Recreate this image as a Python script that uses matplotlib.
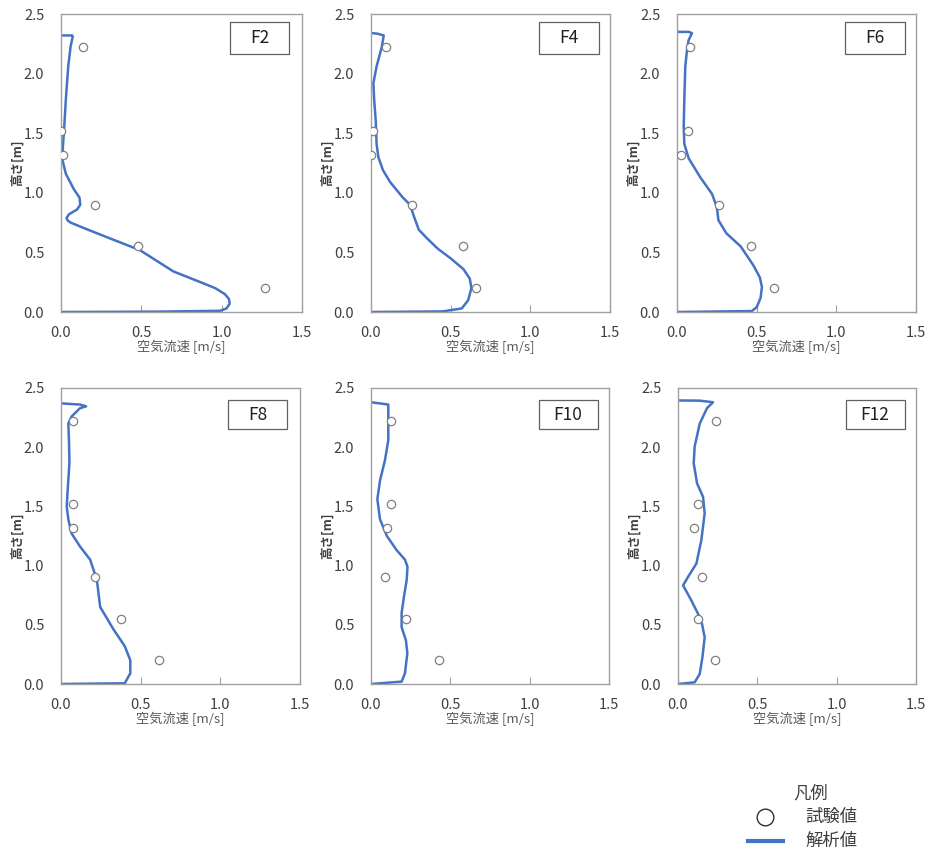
import matplotlib
matplotlib.use("Agg")
import matplotlib.pyplot as plt
from matplotlib.patches import Rectangle
from matplotlib.lines import Line2D

plt.rcParams['font.family'] = ['Noto Sans CJK JP', 'DejaVu Sans']

# measured points (試験値): same heights for every panel
test_h = [2.22, 1.52, 1.32, 0.90, 0.55, 0.20]
test_f2 = [0.14, 0.00, 0.015, 0.21, 0.48, 1.27]
test_f4 = [0.094, 0.01, 0.0, 0.255, 0.58, 0.657]
test_f6 = [0.08, 0.067, 0.027, 0.264, 0.464, 0.611]
test_f8 = [0.074, 0.078, 0.078, 0.216, 0.376, 0.615]
test_f10 = [0.126, 0.126, 0.099, 0.086, 0.218, 0.43]
test_f12 = [0.238, 0.128, 0.099, 0.154, 0.126, 0.234]

# analysis curves (解析値): velocity v at height h
calc_f2_v = [0.0, 0.60, 0.99, 1.03, 1.05, 1.045, 1.02, 0.96, 0.85, 0.70, 0.49, 0.30, 0.15,
             0.06, 0.04, 0.035, 0.05, 0.10, 0.12, 0.115, 0.08, 0.03, 0.01, 0.012, 0.02,
             0.03, 0.045, 0.06, 0.073, 0.07, 0.0]
calc_f2_h = [0.0, 0.003, 0.01, 0.03, 0.07, 0.11, 0.15, 0.20, 0.26, 0.34, 0.52, 0.62, 0.70,
             0.75, 0.77, 0.79, 0.82, 0.86, 0.90, 0.96, 1.03, 1.16, 1.27, 1.39, 1.55,
             1.78, 2.06, 2.23, 2.31, 2.32, 2.32]

calc_f4_v = [0.0, 0.45, 0.57, 0.61, 0.63, 0.62, 0.58, 0.50, 0.42, 0.35, 0.30, 0.27, 0.245,
             0.20, 0.12, 0.075, 0.046, 0.035, 0.03, 0.02, 0.015, 0.035, 0.067, 0.08, 0.04, 0.0]
calc_f4_h = [0.0, 0.005, 0.03, 0.10, 0.20, 0.28, 0.36, 0.45, 0.53, 0.62, 0.69, 0.80, 0.90,
             0.96, 1.09, 1.19, 1.30, 1.41, 1.60, 1.78, 1.92, 2.06, 2.22, 2.32, 2.335, 2.34]

calc_f6_v = [0.0, 0.47, 0.50, 0.525, 0.533, 0.52, 0.48, 0.40, 0.31, 0.26, 0.25, 0.22, 0.146,
             0.073, 0.046, 0.042, 0.046, 0.052, 0.063, 0.073, 0.094, 0.073, 0.0]
calc_f6_h = [0.0, 0.008, 0.04, 0.12, 0.21, 0.29, 0.39, 0.55, 0.66, 0.77, 0.88, 0.99, 1.13,
             1.29, 1.41, 1.55, 1.78, 2.06, 2.20, 2.28, 2.34, 2.35, 2.35]

calc_f8_v = [0.0, 0.40, 0.435, 0.435, 0.40, 0.33, 0.246, 0.235, 0.225, 0.183, 0.12, 0.067,
             0.046, 0.036, 0.042, 0.053, 0.05, 0.046, 0.067, 0.12, 0.158, 0.12, 0.0]
calc_f8_h = [0.0, 0.006, 0.09, 0.20, 0.32, 0.46, 0.65, 0.77, 0.88, 1.05, 1.16, 1.27,
             1.39, 1.50, 1.64, 1.87, 2.06, 2.20, 2.26, 2.33, 2.345, 2.36, 2.37]

calc_f10_v = [0.0, 0.193, 0.214, 0.229, 0.22, 0.193, 0.193, 0.208, 0.225, 0.23, 0.214, 0.162,
              0.10, 0.057, 0.04, 0.057, 0.088, 0.109, 0.109, 0.109, 0.0]
calc_f10_h = [0.0, 0.02, 0.09, 0.26, 0.37, 0.48, 0.60, 0.74, 0.88, 0.99, 1.05, 1.13,
              1.25, 1.39, 1.56, 1.72, 1.89, 2.06, 2.23, 2.36, 2.38]

calc_f12_v = [0.0, 0.105, 0.137, 0.154, 0.168, 0.147, 0.084, 0.032, 0.063, 0.116, 0.147, 0.168,
              0.158, 0.12, 0.099, 0.105, 0.137, 0.183, 0.221, 0.137, 0.0]
calc_f12_h = [0.0, 0.014, 0.085, 0.226, 0.395, 0.537, 0.706, 0.833, 0.904, 1.017, 1.215, 1.44,
              1.58, 1.695, 1.864, 2.006, 2.20, 2.33, 2.38, 2.393, 2.395]

names = ["F2", "F4", "F6", "F8", "F10", "F12"]
tests = [test_f2, test_f4, test_f6, test_f8, test_f10, test_f12]
calcs = [(calc_f2_v, calc_f2_h), (calc_f4_v, calc_f4_h), (calc_f6_v, calc_f6_h),
         (calc_f8_v, calc_f8_h), (calc_f10_v, calc_f10_h), (calc_f12_v, calc_f12_h)]

x_ticks = [0.0, 0.5, 1.0, 1.5]
y_ticks = [0.0, 0.5, 1.0, 1.5, 2.0, 2.5]

W, H = 929, 857
fig = plt.figure(figsize=(W / 100, H / 100), dpi=100)

# axes boxes in pixels: left, right, top, bottom
boxes = [(61, 302, 14, 312), (371, 610, 14, 312), (677, 916, 14, 312),
         (61, 300, 388, 684), (371, 609, 388, 684), (678, 916, 388, 684)]

blue = "#4472C4"
grey_txt = "#404040"
spine_c = "#a0a0a0"

for i, (l, r, t, b) in enumerate(boxes):
    ax = fig.add_axes([l / W, (H - b) / H, (r - l) / W, (b - t) / H])
    v, h = calcs[i]
    ax.plot(v, h, color=blue, lw=1.8, solid_joinstyle="round", zorder=2)
    ax.plot(tests[i], test_h, "o", mfc="white", mec="#808080", mew=0.9, ms=6, zorder=3)
    ax.set_xlim(0, 1.5)
    ax.set_ylim(0, 2.5)
    ax.set_xticks(x_ticks)
    ax.set_yticks(y_ticks)
    ax.set_xticklabels([f"{x:.1f}" for x in x_ticks])
    ax.set_yticklabels([f"{y:.1f}" for y in y_ticks])
    ax.tick_params(axis="x", direction="in", length=5, color=spine_c, pad=10,
                   labelsize=10.5, labelcolor=grey_txt)
    ax.tick_params(axis="y", length=0, pad=12, labelsize=10.5, labelcolor=grey_txt)
    for s in ax.spines.values():
        s.set_color(spine_c)
        s.set_linewidth(1)
    ax.set_xlabel("空気流速 [m/s]", fontsize=9.5, color="#595959", labelpad=0)
    ax.set_ylabel("高さ[m]", fontsize=9, color=grey_txt, fontweight="bold")
    ax.yaxis.set_label_coords(-0.155, 0.5)
    # panel name box
    if i < 3:
        by0, by1 = 0.866, 0.973
    else:
        by0, by1 = 0.861, 0.959
    bx0 = 0.70 if i % 3 == 0 else 0.705
    ax.add_patch(Rectangle((bx0, by0), 0.247, by1 - by0, transform=ax.transAxes,
                           fc="white", ec="#606060", lw=0.9, zorder=4))
    ax.text(bx0 + 0.1235, (by0 + by1) / 2, names[i], transform=ax.transAxes,
            ha="center", va="center", fontsize=12.5, color="#202020", zorder=5)

# legend (凡例)
fig.text(811 / W, 1 - 794 / H, "凡例", ha="center", va="center", fontsize=12.5, color=grey_txt)
fig.add_artist(Line2D([765 / W], [1 - 817 / H], marker="o", mfc="white", mec="#303030",
                      mew=1.0, ms=12, transform=fig.transFigure))
fig.text(805 / W, 1 - 817 / H, "試験値", ha="left", va="center", fontsize=12.5, color=grey_txt)
fig.add_artist(Line2D([748 / W, 783 / W], [1 - 841 / H, 1 - 841 / H], color=blue, lw=3,
                      transform=fig.transFigure))
fig.text(805 / W, 1 - 841 / H, "解析値", ha="left", va="center", fontsize=12.5, color=grey_txt)

fig.savefig("out.png", dpi=100)
